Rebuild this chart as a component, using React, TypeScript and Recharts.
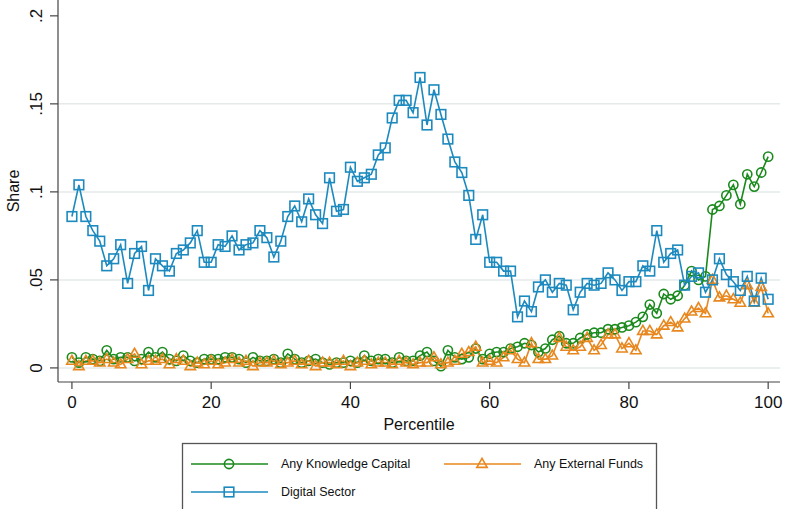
import React from 'react';
import { LineChart, Line, XAxis, YAxis, CartesianGrid, Label } from 'recharts';

// Share of firms by percentile (0..100)
const percentiles = Array.from({ length: 101 }, (_, i) => i);

const knowledgeCapital = [
  0.006, 0.003, 0.006, 0.005, 0.004, 0.010, 0.005, 0.006, 0.006, 0.004,
  0.005, 0.009, 0.006, 0.009, 0.005, 0.004, 0.007, 0.004, 0.003, 0.005,
  0.005, 0.005, 0.006, 0.006, 0.005, 0.003, 0.006, 0.004, 0.004, 0.005,
  0.003, 0.008, 0.005, 0.003, 0.004, 0.005, 0.003, 0.002, 0.003, 0.003,
  0.004, 0.003, 0.007, 0.004, 0.005, 0.005, 0.003, 0.006, 0.004, 0.004,
  0.007, 0.009, 0.004, 0.001, 0.010, 0.006, 0.005, 0.006, 0.011, 0.005,
  0.008, 0.009, 0.009, 0.011, 0.012, 0.014, 0.013, 0.009, 0.011, 0.016,
  0.018, 0.014, 0.014, 0.017, 0.019, 0.020, 0.020, 0.022, 0.022, 0.023,
  0.024, 0.026, 0.029, 0.036, 0.031, 0.042, 0.039, 0.041, 0.047, 0.055,
  0.050, 0.052, 0.090, 0.092, 0.098, 0.104, 0.093, 0.110, 0.103, 0.111,
  0.120,
];

const externalFunds = [
  0.004, 0.001, 0.004, 0.004, 0.003, 0.005, 0.003, 0.002, 0.005, 0.008,
  0.002, 0.004, 0.004, 0.005, 0.002, 0.005, 0.004, 0.001, 0.003, 0.002,
  0.004, 0.002, 0.003, 0.005, 0.003, 0.004, 0.001, 0.003, 0.003, 0.004,
  0.002, 0.003, 0.004, 0.002, 0.004, 0.001, 0.003, 0.003, 0.002, 0.004,
  0.001, 0.003, 0.004, 0.002, 0.003, 0.003, 0.002, 0.004, 0.003, 0.002,
  0.003, 0.003, 0.006, 0.002, 0.003, 0.004, 0.008, 0.009, 0.012, 0.003,
  0.004, 0.003, 0.006, 0.010, 0.005, 0.003, 0.014, 0.005, 0.005, 0.007,
  0.017, 0.012, 0.010, 0.012, 0.017, 0.010, 0.013, 0.019, 0.019, 0.011,
  0.014, 0.010, 0.021, 0.021, 0.019, 0.024, 0.026, 0.023, 0.028, 0.032,
  0.034, 0.031, 0.050, 0.040, 0.041, 0.039, 0.037, 0.047, 0.037, 0.046,
  0.031,
];

const digitalSector = [
  0.086, 0.104, 0.086, 0.078, 0.072, 0.058, 0.062, 0.070, 0.048, 0.065,
  0.069, 0.044, 0.062, 0.058, 0.055, 0.065, 0.067, 0.071, 0.078, 0.060,
  0.060, 0.070, 0.069, 0.075, 0.067, 0.070, 0.071, 0.078, 0.074, 0.063,
  0.072, 0.086, 0.092, 0.083, 0.096, 0.087, 0.082, 0.108, 0.089, 0.090,
  0.114, 0.106, 0.108, 0.110, 0.121, 0.125, 0.142, 0.152, 0.152, 0.145,
  0.165, 0.138, 0.158, 0.144, 0.130, 0.117, 0.111, 0.098, 0.073, 0.087,
  0.060, 0.060, 0.055, 0.055, 0.029, 0.038, 0.032, 0.046, 0.050, 0.043,
  0.048, 0.047, 0.033, 0.043, 0.048, 0.047, 0.048, 0.054, 0.050, 0.044,
  0.049, 0.049, 0.058, 0.055, 0.078, 0.060, 0.065, 0.067, 0.047, 0.052,
  0.054, 0.043, 0.050, 0.062, 0.053, 0.049, 0.044, 0.052, 0.038, 0.051,
  0.039,
];

const xTicks = [0, 20, 40, 60, 80, 100];
const yTicks = [0, 0.05, 0.1, 0.15, 0.2];
const yTickLabels = ['0', '.05', '.1', '.15', '.2'];
const yGridValues = [0, 0.05, 0.1, 0.15];

const GREEN = '#1b8a1d';
const ORANGE = '#e8871e';
const BLUE = '#1d8abf';
const FONT = '"Liberation Sans", Arial, Helvetica, sans-serif';

const data = percentiles.map((p, i) => ({
  p,
  knowledge: knowledgeCapital[i],
  external: externalFunds[i],
  digital: digitalSector[i],
}));

type Shape = 'circle' | 'triangle' | 'square';

const Marker = ({ cx, cy, shape, color }: { cx: number; cy: number; shape: Shape; color: string }) => {
  if (shape === 'circle') {
    return <circle cx={cx} cy={cy} r={4.6} fill="none" stroke={color} strokeWidth={1.6} />;
  }
  if (shape === 'square') {
    return <rect x={cx - 4.8} y={cy - 4.8} width={9.6} height={9.6} fill="none" stroke={color} strokeWidth={1.6} />;
  }
  const h = 9;
  const w = 10.4;
  const pts = `${cx},${cy - h * 0.62} ${cx - w / 2},${cy + h * 0.38} ${cx + w / 2},${cy + h * 0.38}`;
  return <polygon points={pts} fill="none" stroke={color} strokeWidth={1.6} strokeLinejoin="miter" />;
};

const makeDot = (shape: Shape, color: string) => (props: any) => {
  const { cx, cy, index } = props;
  if (cx == null || cy == null) return <g key={`e-${index}`} />;
  return (
    <g key={`${shape}-${index}`}>
      <Marker cx={cx} cy={cy} shape={shape} color={color} />
    </g>
  );
};

const YTick = (props: any) => {
  const { x, y, payload } = props;
  const idx = yTicks.findIndex((t) => Math.abs(t - payload.value) < 1e-9);
  const label = idx >= 0 ? yTickLabels[idx] : String(payload.value);
  const tx = x - 11;
  return (
    <text
      x={tx}
      y={y}
      transform={`rotate(-90 ${tx} ${y})`}
      textAnchor="middle"
      dominantBaseline="central"
      fontSize={17}
      fontFamily={FONT}
      fill="#111"
    >
      {label}
    </text>
  );
};

const XTick = (props: any) => {
  const { x, y, payload } = props;
  return (
    <text x={x} y={y + 11} textAnchor="middle" dominantBaseline="central" fontSize={17} fontFamily={FONT} fill="#111">
      {payload.value}
    </text>
  );
};

const legendItems: { label: string; shape: Shape; color: string; col: number; row: number }[] = [
  { label: 'Any Knowledge Capital', shape: 'circle', color: GREEN, col: 0, row: 0 },
  { label: 'Any External Funds', shape: 'triangle', color: ORANGE, col: 1, row: 0 },
  { label: 'Digital Sector', shape: 'square', color: BLUE, col: 0, row: 1 },
];

const LegendBox = () => (
  <svg width={478} height={67} style={{ position: 'absolute', left: 181, top: 442, overflow: 'hidden' }}>
    <rect x={1.5} y={1.5} width={474} height={90} fill="#fff" stroke="#555" strokeWidth={1.3} />
    {legendItems.map((it) => {
      const x0 = 10 + it.col * 253;
      const cy = 22 + it.row * 28;
      return (
        <g key={it.label}>
          <line x1={x0} y1={cy} x2={x0 + 77} y2={cy} stroke={it.color} strokeWidth={1.6} />
          <Marker cx={x0 + 38} cy={cy} shape={it.shape} color={it.color} />
          <text x={x0 + 90} y={cy} dominantBaseline="central" fontSize={12.5} fontFamily={FONT} fill="#111">
            {it.label}
          </text>
        </g>
      );
    })}
  </svg>
);

export default function App() {
  return (
    <div style={{ position: 'absolute', left: 0, top: 0, width: 790, height: 509, overflow: 'hidden', background: '#fff' }}>
      <LineChart width={790} height={509} data={data} margin={{ top: 0, right: 10, bottom: 0, left: 0 }}>
        <CartesianGrid
          vertical={false}
          stroke="#e6eaea"
          strokeWidth={1.5}
          horizontalValues={yGridValues}
        />
        <XAxis
          dataKey="p"
          type="number"
          domain={[-2, 101.7]}
          allowDataOverflow
          ticks={xTicks}
          interval={0}
          tickSize={7}
          height={127}
          axisLine={{ stroke: '#444', strokeWidth: 1.2 }}
          tickLine={{ stroke: '#444', strokeWidth: 1.2 }}
          tick={<XTick />}
        >
          <Label
            content={(p: any) => {
              const vb = p.viewBox;
              return (
                <text x={vb.x + vb.width / 2} y={vb.y + 42} textAnchor="middle" dominantBaseline="central" fontSize={16} fontFamily={FONT} fill="#111">
                  Percentile
                </text>
              );
            }}
          />
        </XAxis>
        <YAxis
          type="number"
          domain={[-0.008, 0.209]}
          allowDataOverflow
          ticks={yTicks}
          interval={0}
          tickSize={8}
          width={58}
          axisLine={{ stroke: '#444', strokeWidth: 1.2 }}
          tickLine={{ stroke: '#444', strokeWidth: 1.2 }}
          tick={<YTick />}
        >
          <Label
            content={() => (
              <text x={13} y={191} transform="rotate(-90 13 191)" textAnchor="middle" dominantBaseline="central" fontSize={16} fontFamily={FONT} fill="#111">
                Share
              </text>
            )}
          />
        </YAxis>
        <Line type="linear" dataKey="knowledge" stroke={GREEN} strokeWidth={1.6} dot={makeDot('circle', GREEN)} activeDot={false} isAnimationActive={false} />
        <Line type="linear" dataKey="external" stroke={ORANGE} strokeWidth={1.6} dot={makeDot('triangle', ORANGE)} activeDot={false} isAnimationActive={false} />
        <Line type="linear" dataKey="digital" stroke={BLUE} strokeWidth={1.6} dot={makeDot('square', BLUE)} activeDot={false} isAnimationActive={false} />
      </LineChart>
      <LegendBox />
    </div>
  );
}
